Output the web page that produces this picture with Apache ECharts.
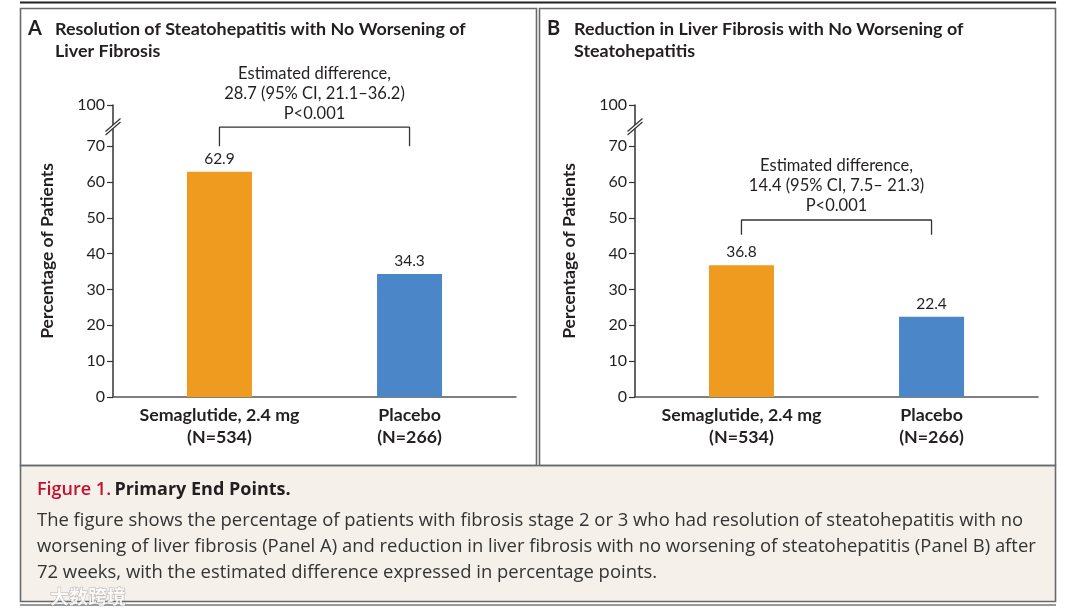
<!DOCTYPE html>
<html><head><meta charset="utf-8">
<script src="https://cdn.jsdelivr.net/npm/echarts@6/dist/echarts.min.js"></script>
<style>html,body{margin:0;padding:0;background:#fff}#c{width:1074px;height:616px}</style>
</head><body><div id="c"></div>
<script>
// ---- data ----
const categories = ['Semaglutide, 2.4 mg', 'Placebo'];
const groupSizes = ['(N=534)', '(N=266)'];
const panelAValues = [62.9, 34.3];
const panelBValues = [36.8, 22.4];
const yTickValues = [0, 10, 20, 30, 40, 50, 60, 70];
const yBreakTop = 81.5;          // axis position of the broken "100" tick
const yBreakTopLabel = '100';
const yBreakAt = 75.8;
const panelATitle = ['Resolution of Steatohepatitis with No Worsening of', 'Liver Fibrosis'];
const panelBTitle = ['Reduction in Liver Fibrosis with No Worsening of', 'Steatohepatitis'];
const panelANote = ['Estimated difference,', '28.7 (95% CI, 21.1\u201336.2)', 'P<0.001'];
const panelBNote = ['Estimated difference,', '14.4 (95% CI, 7.5\u2013 21.3)', 'P<0.001'];
const bracketA = [70.0, 75.3];   // foot, top
const bracketB = [45.3, 49.4];
const captionTitle = ['Figure 1.', 'Primary End Points.'];
const captionLines = [
  'The figure shows the percentage of patients with fibrosis stage 2 or 3 who had resolution of steatohepatitis with no',
  'worsening of liver fibrosis (Panel A) and reduction in liver fibrosis with no worsening of steatohepatitis (Panel B) after',
  '72 weeks, with the estimated difference expressed in percentage points.'
];
const barColors = ['#EE9B20', '#4A86C8'];

const FONT = 'Lato';
const BODY = '"Open Sans"';
const TXT = '#231f20';

function xAxisCfg(gi) {
  return {
    type: 'value', gridIndex: gi, min: -0.56, max: 1.56,
    axisLine: { show: true, onZero: false, lineStyle: { color: '#555', width: 1.5 } },
    axisTick: { show: false },
    splitLine: { show: false },
    axisLabel: {
      customValues: [0, 1], margin: 7, fontFamily: FONT, fontSize: 17.8, fontWeight: 'bold',
      color: TXT, lineHeight: 22,
      formatter: v => categories[Math.round(v)] + '\n' + groupSizes[Math.round(v)]
    }
  };
}
function yAxisCfg(gi) {
  const vals = yTickValues.concat([yBreakTop]);
  return {
    type: 'value', gridIndex: gi, min: 0, max: yBreakTop,
    name: 'Percentage of Patients', nameLocation: 'middle', nameGap: 57,
    nameTextStyle: { fontFamily: FONT, fontSize: 17.5, fontWeight: 'bold', color: TXT },
    axisLine: { show: true, onZero: false, lineStyle: { color: '#333', width: 1.5 } },
    axisTick: { show: true, customValues: vals, length: 6, lineStyle: { color: '#333', width: 1.2 } },
    splitLine: { show: false },
    axisLabel: {
      customValues: vals, margin: 8, fontFamily: FONT, fontSize: 16, color: TXT,
      formatter: v => (v === yBreakTop ? yBreakTopLabel : String(v))
    }
  };
}
function barSeries(gi, values) {
  return {
    type: 'bar', xAxisIndex: gi, yAxisIndex: gi, barWidth: 65,
    data: values.map((v, i) => ({ value: [i, v], itemStyle: { color: barColors[i] } })),
    label: { show: true, position: 'top', distance: 5, fontFamily: FONT, fontSize: 15.5, color: TXT,
      formatter: p => p.value[1].toFixed(1) },
    silent: true
  };
}
function bracketSeries(gi, br) {
  return {
    type: 'line', xAxisIndex: gi, yAxisIndex: gi, symbol: 'none', silent: true,
    lineStyle: { color: '#333', width: 1.3 },
    data: [[0, br[0]], [0, br[1]], [1, br[1]], [1, br[0]]]
  };
}

const chart = echarts.init(document.getElementById('c'), null, { renderer: 'canvas' });
chart.setOption({
  animation: false,
  grid: [
    { left: 113, top: 105, width: 403, height: 292 },
    { left: 635, top: 105, width: 403, height: 292 }
  ],
  xAxis: [xAxisCfg(0), xAxisCfg(1)],
  yAxis: [yAxisCfg(0), yAxisCfg(1)],
  series: [barSeries(0, panelAValues), barSeries(1, panelBValues), bracketSeries(0, bracketA), bracketSeries(1, bracketB)]
});

// ---- decorations ----
const g = [];
g.push({ type: 'line', shape: { x1: 20, y1: 2.5, x2: 1056, y2: 2.5 }, style: { stroke: '#222', lineWidth: 2 }, z: 10 });
g.push({ type: 'rect', shape: { x: 20.5, y: 8.5, width: 516, height: 457 }, style: { fill: 'none', stroke: '#6a6a6a', lineWidth: 1.6 }, z: 10 });
g.push({ type: 'rect', shape: { x: 539.5, y: 8.5, width: 516, height: 457 }, style: { fill: 'none', stroke: '#6a6a6a', lineWidth: 1.6 }, z: 10 });
g.push({ type: 'rect', shape: { x: 20.5, y: 465.5, width: 1035, height: 136 }, style: { fill: '#f5f0ea', stroke: '#6a6a6a', lineWidth: 1.6 }, z: -1 });
g.push({ type: 'line', shape: { x1: 20, y1: 605, x2: 1056, y2: 605 }, style: { stroke: '#777', lineWidth: 1.5 }, z: 10 });

function panelTitle(letter, lines, x0) {
  g.push({ type: 'text', x: x0, y: 29, style: { text: letter, font: 'bold 20px ' + FONT, fill: TXT, textVerticalAlign: 'middle' }, z: 10 });
  lines.forEach((t, i) => g.push({ type: 'text', x: x0 + 27, y: 29 + i * 22,
    style: { text: t, font: 'bold 17.9px ' + FONT, fill: TXT, textVerticalAlign: 'middle' }, z: 10 }));
}
panelTitle('A', panelATitle, 28);
panelTitle('B', panelBTitle, 547);

function note(gi, lines, br) {
  const p = chart.convertToPixel({ gridIndex: gi }, [0.5, br[1]]);
  const n = lines.length;
  lines.forEach((t, i) => g.push({ type: 'text', x: p[0], y: p[1] - 14 - (n - 1 - i) * 20,
    style: { text: t, font: '16.5px ' + FONT, fill: TXT, textAlign: 'center', textVerticalAlign: 'middle' }, z: 10 }));
}
note(0, panelANote, bracketA);
note(1, panelBNote, bracketB);

function axisBreak(gi) {
  const p = chart.convertToPixel({ gridIndex: gi }, [-0.56, yBreakAt]);
  const x = p[0], y = p[1];
  g.push({ type: 'polygon', shape: { points: [[x - 7, y + 5.5], [x + 7, y - 6.5], [x + 7, y - 3], [x - 7, y + 9]] },
    style: { fill: '#fff' }, z: 20 });
  g.push({ type: 'line', shape: { x1: x - 7.5, y1: y + 6, x2: x + 7.5, y2: y - 7 }, style: { stroke: '#333', lineWidth: 1.2 }, z: 21 });
  g.push({ type: 'line', shape: { x1: x - 7.5, y1: y + 9.5, x2: x + 7.5, y2: y - 3.5 }, style: { stroke: '#333', lineWidth: 1.2 }, z: 21 });
}
axisBreak(0);
axisBreak(1);

g.push({ type: 'text', x: 37, y: 490, style: {
  text: '{r|' + captionTitle[0] + '} {b|' + captionTitle[1] + '}', textVerticalAlign: 'middle',
  rich: { r: { font: '600 18px ' + BODY, fill: '#c8102e' }, b: { font: 'bold 18px ' + BODY, fill: TXT } } }, z: 10 });
captionLines.forEach((t, i) => g.push({ type: 'text', x: 37, y: 521 + i * 26,
  style: { text: t, font: '18.45px ' + BODY, fill: '#333', textVerticalAlign: 'middle' }, z: 10 }));
g.push({ type: 'text', x: 50, y: 597, style: { text: '\u5927\u6570\u8de8\u5883', font: 'bold 19px "Noto Sans CJK SC"',
  fill: 'rgba(255,255,255,0.85)', stroke: 'rgba(120,120,120,0.5)', lineWidth: 1, textVerticalAlign: 'middle' }, z: 30 });

chart.setOption({ graphic: g });
</script></body></html>
